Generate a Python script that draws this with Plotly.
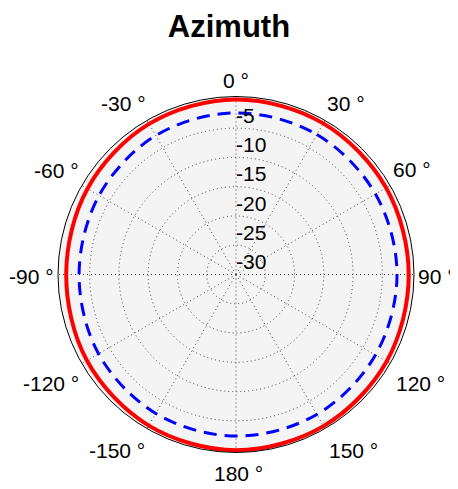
import math
import plotly.graph_objects as go

# Data (dB), every 30 degrees (clockwise from top)
angles_deg = [0, 30, 60, 90, 120, 150, 180, 210, 240, 270, 300, 330, 360]
red_db = [-0.1, -0.2, -0.4, -0.5, -0.3, -0.1, 0.0, -0.2, -0.6, -1.0, -0.7, -0.3, -0.1]
blue_db = [-2.4, -2.4, -2.5, -2.5, -2.5, -2.4, -2.4, -2.6, -2.9, -3.2, -3.0, -2.6, -2.4]

theta_ticks = [0, 30, 60, 90, 120, 150, 180, 210, 240, 270, 300, 330]
theta_labels = ["0 °", "30 °", "60 °", "90 °", "120 °", "150 °", "180 °",
                "-150 °", "-120 °", "-90 °", "-60 °", "-30 °"]
r_ticks = [-30, -25, -20, -15, -10, -5]
r_labels = ["-30", "-25", "-20", "-15", "-10", "-5"]
r_min, r_max = -30, 0.4

# label placement (style): polar angle and distance from centre in pixels
label_theta = [0, 32.7, 59.3, 90.6, 120.6, 146.2, 179.3, 214.1, 239.5, 269.4, 300.2, 326.7]
label_dist_px = [194, 203.5, 204.7, 201, 213.8, 211.3, 199, 212, 214.6, 204.3, 207.7, 204.7]

W, H = 458, 489
off = 8  # page body margin
cx, cy, R = 236 - off, 274.5 - off, 178

fig = go.Figure()
fig.add_trace(go.Scatterpolar(r=red_db, theta=angles_deg, mode="lines",
                              line=dict(color="#ff0000", width=4, shape="spline"),
                              showlegend=False, hoverinfo="skip"))
fig.add_trace(go.Scatterpolar(r=blue_db, theta=angles_deg, mode="lines",
                              line=dict(color="#0000ff", width=3, dash="13px,8px", shape="spline"),
                              showlegend=False, hoverinfo="skip"))
# radial tick labels (along the 0 degree spoke)
fig.add_trace(go.Scatterpolar(r=r_ticks, theta=[0] * len(r_ticks), mode="text",
                              text=r_labels, textposition="top right",
                              textfont=dict(size=21, color="black",
                                            family="Liberation Sans, Arial"),
                              showlegend=False, hoverinfo="skip", cliponaxis=False))

# angular tick labels outside the outer circle
annotations = []
for lab, th, d in zip(theta_labels, label_theta, label_dist_px):
    px = cx + d * math.sin(math.radians(th))
    py = cy - d * math.cos(math.radians(th))
    annotations.append(dict(text=lab, x=px / W, y=1 - py / H, xref="paper", yref="paper",
                            xanchor="center", yanchor="middle", showarrow=False,
                            font=dict(size=21, color="black", family="Liberation Sans, Arial")))

fig.update_layout(
    width=W, height=H,
    margin=dict(l=0, r=0, t=0, b=0),
    paper_bgcolor="white",
    font=dict(family="Liberation Sans, Arial", size=21, color="black"),
    title=dict(text="<b>Azimuth</b>", x=(229 - off) / W, xanchor="center",
               y=1 - 18 / H, yanchor="middle",
               font=dict(size=31, family="Liberation Sans, Arial", color="black")),
    annotations=annotations,
    polar=dict(
        domain=dict(x=[(cx - R) / W, (cx + R) / W], y=[(H - cy - R) / H, (H - cy + R) / H]),
        bgcolor="#f4f4f4",
        angularaxis=dict(direction="clockwise", rotation=90,
                         tickmode="array", tickvals=theta_ticks, ticktext=theta_labels,
                         showticklabels=False,
                         showline=True, linecolor="black", linewidth=1,
                         gridcolor="#444444", griddash="1px,3px", gridwidth=1,
                         ticks=""),
        radialaxis=dict(range=[r_min, r_max], angle=90,
                        tickmode="array", tickvals=r_ticks, ticktext=r_labels,
                        showticklabels=False,
                        showline=False, gridcolor="#444444", griddash="1px,3px", gridwidth=1,
                        ticks=""),
    ),
)
fig.write_html("out.html")
